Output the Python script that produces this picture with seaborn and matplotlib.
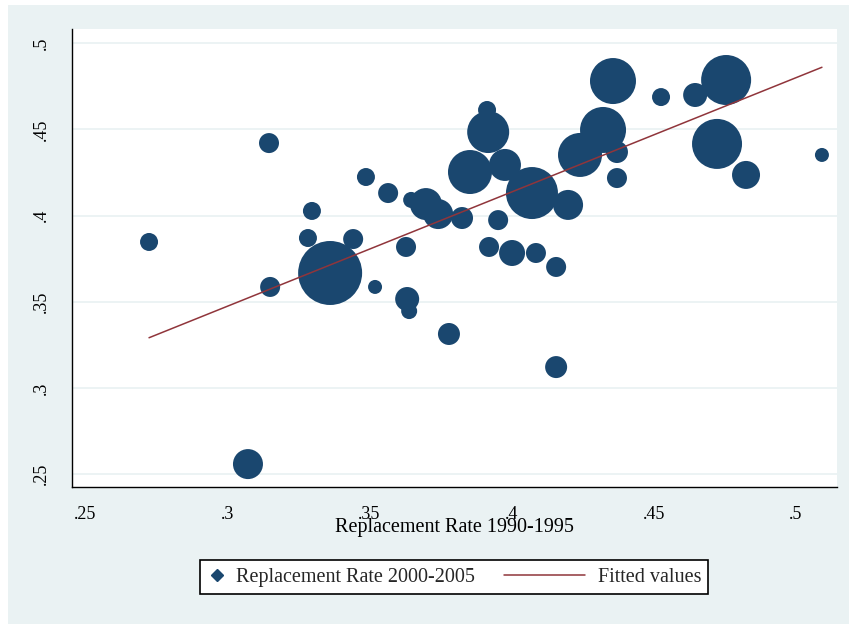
import numpy as np
import pandas as pd
import matplotlib
matplotlib.use("Agg")
import matplotlib.pyplot as plt
import seaborn as sns
from matplotlib.legend_handler import HandlerLine2D
from matplotlib.lines import Line2D
from matplotlib.patches import Rectangle

# ---- data ----
rr_1990 = [0.2725, 0.3147, 0.3151, 0.3298, 0.3284, 0.3362, 0.3443, 0.3488, 0.3520,
           0.3566, 0.3629, 0.3633, 0.3640, 0.3647, 0.3699, 0.3742, 0.3826, 0.3780,
           0.3854, 0.3914, 0.3918, 0.3921, 0.3953, 0.3977, 0.4002, 0.4072, 0.4086,
           0.4157, 0.4157, 0.4199, 0.4241, 0.4322, 0.4371, 0.4371, 0.4357, 0.4526,
           0.4646, 0.4755, 0.4723, 0.4825, 0.5092, 0.3073]
rr_2000 = [0.3847, 0.4421, 0.3586, 0.4027, 0.3870, 0.3667, 0.3864, 0.4224, 0.3586,
           0.4131, 0.3818, 0.3516, 0.3446, 0.4091, 0.4067, 0.4009, 0.3986, 0.3313,
           0.4253, 0.4613, 0.4485, 0.3818, 0.3974, 0.4294, 0.3783, 0.4131, 0.3783,
           0.3702, 0.3121, 0.4062, 0.4352, 0.4497, 0.4369, 0.4218, 0.4781, 0.4688,
           0.4700, 0.4787, 0.4416, 0.4236, 0.4352, 0.2558]
weight = [81, 100, 100, 81, 81, 1024, 100, 81, 49,
          100, 100, 144, 64, 64, 256, 225, 121, 121,
          484, 81, 441, 100, 100, 256, 169, 676, 100,
          100, 121, 225, 484, 529, 121, 100, 529, 81,
          144, 625, 625, 196, 49, 225]

x_ticks = [0.25, 0.30, 0.35, 0.40, 0.45, 0.50]
x_tick_labels = [".25", ".3", ".35", ".4", ".45", ".5"]
y_ticks = [0.25, 0.30, 0.35, 0.40, 0.45, 0.50]
y_tick_labels = [".25", ".3", ".35", ".4", ".45", ".5"]

x_title = "Replacement Rate 1990-1995"
series_labels = ["Replacement Rate 2000-2005", "Fitted values"]

NAVY = "#1A476F"
MAROON = "#90353B"
BG = "#EAF2F3"

sns.set_style("white")
plt.rcParams["font.family"] = ["Liberation Serif", "DejaVu Serif"]

W, H = 849, 624
fig = plt.figure(figsize=(W / 100, H / 100), dpi=100, facecolor="white")
fig.patches.append(Rectangle((8 / W, 0), 1 - 8 / W, 1 - 5 / H, transform=fig.transFigure,
                             facecolor=BG, edgecolor="none", zorder=-10))
ax = fig.add_axes([72 / W, 1 - 487 / H, (837 - 72) / W, (487 - 29) / H])
ax.set_zorder(1)
ax.set_facecolor("white")

df = pd.DataFrame({"rr_1990": rr_1990, "rr_2000": rr_2000, "weight": weight})
k = (2 * 0.72) ** 2
sns.scatterplot(data=df, x="rr_1990", y="rr_2000", size="weight",
                sizes=(k * min(weight), k * max(weight)),
                size_norm=(min(weight), max(weight)),
                color=NAVY, edgecolor=NAVY, linewidth=0, alpha=1,
                legend=False, ax=ax, zorder=3)

# weighted linear fit (analytic weights), drawn over the range of the data
xa = np.array(rr_1990); ya = np.array(rr_2000); wa = np.array(weight, float)
coef_w = np.polyfit(xa, ya, 1, w=np.sqrt(wa))
fx = np.array([xa.min(), xa.max()])
sns.lineplot(x=fx, y=np.polyval(coef_w, fx), color=MAROON, linewidth=1.1, ax=ax, zorder=4)

ax.set_xlim(0.2454, 0.5145)
ax.set_ylim(0.2425, 0.5083)
ax.set_xticks(x_ticks)
ax.set_xticklabels(x_tick_labels)
ax.set_yticks(y_ticks)
ax.set_yticklabels(y_tick_labels, rotation=90, va="center")
ax.yaxis.grid(True, color=BG, linewidth=1.3)
ax.xaxis.grid(False)
ax.set_axisbelow(True)
for s in ["top", "right"]:
    ax.spines[s].set_visible(False)
for s in ["left", "bottom"]:
    ax.spines[s].set_color("black")
    ax.spines[s].set_linewidth(1.0)
ax.tick_params(axis="both", direction="out", length=5.8, width=1.0, color="black",
               labelsize=13, labelcolor="black")
ax.tick_params(axis="x", pad=8)
ax.tick_params(axis="y", pad=10)
ax.set_ylabel("")
ax.set_xlabel(x_title, fontsize=14.5, color="black")
ax.xaxis.set_label_coords(0.5, -0.088)
ax.xaxis.label.set_va("center")


class LongLineHandler(HandlerLine2D):
    def create_artists(self, legend, orig_handle, xdescent, ydescent, width, height,
                       fontsize, trans):
        ydata = ((height - ydescent) / 2.0) * np.ones(2)
        x1 = -xdescent + width - 0.2 * fontsize
        x0 = x1 - 4.0 * fontsize
        line = Line2D([x0, x1], ydata)
        self.update_prop(line, orig_handle, legend)
        line.set_transform(trans)
        return [line]


h1 = Line2D([], [], marker="D", color=NAVY, linestyle="none", markersize=6)
h2 = Line2D([], [], color=MAROON, linewidth=1.1)
leg = fig.legend([h1, h2], series_labels, loc="center",
                 bbox_to_anchor=(454 / W, 1 - 577 / H), ncol=2, frameon=True,
                 fancybox=False, edgecolor="black", facecolor="white", framealpha=1,
                 fontsize=14.5, handlelength=1.0, handletextpad=0.45,
                 columnspacing=4.67, borderpad=0.35,
                 handler_map={h1: HandlerLine2D(numpoints=1), h2: LongLineHandler()})
leg.get_frame().set_linewidth(1.2)

fig.savefig("out.png", dpi=100, facecolor=fig.get_facecolor())
